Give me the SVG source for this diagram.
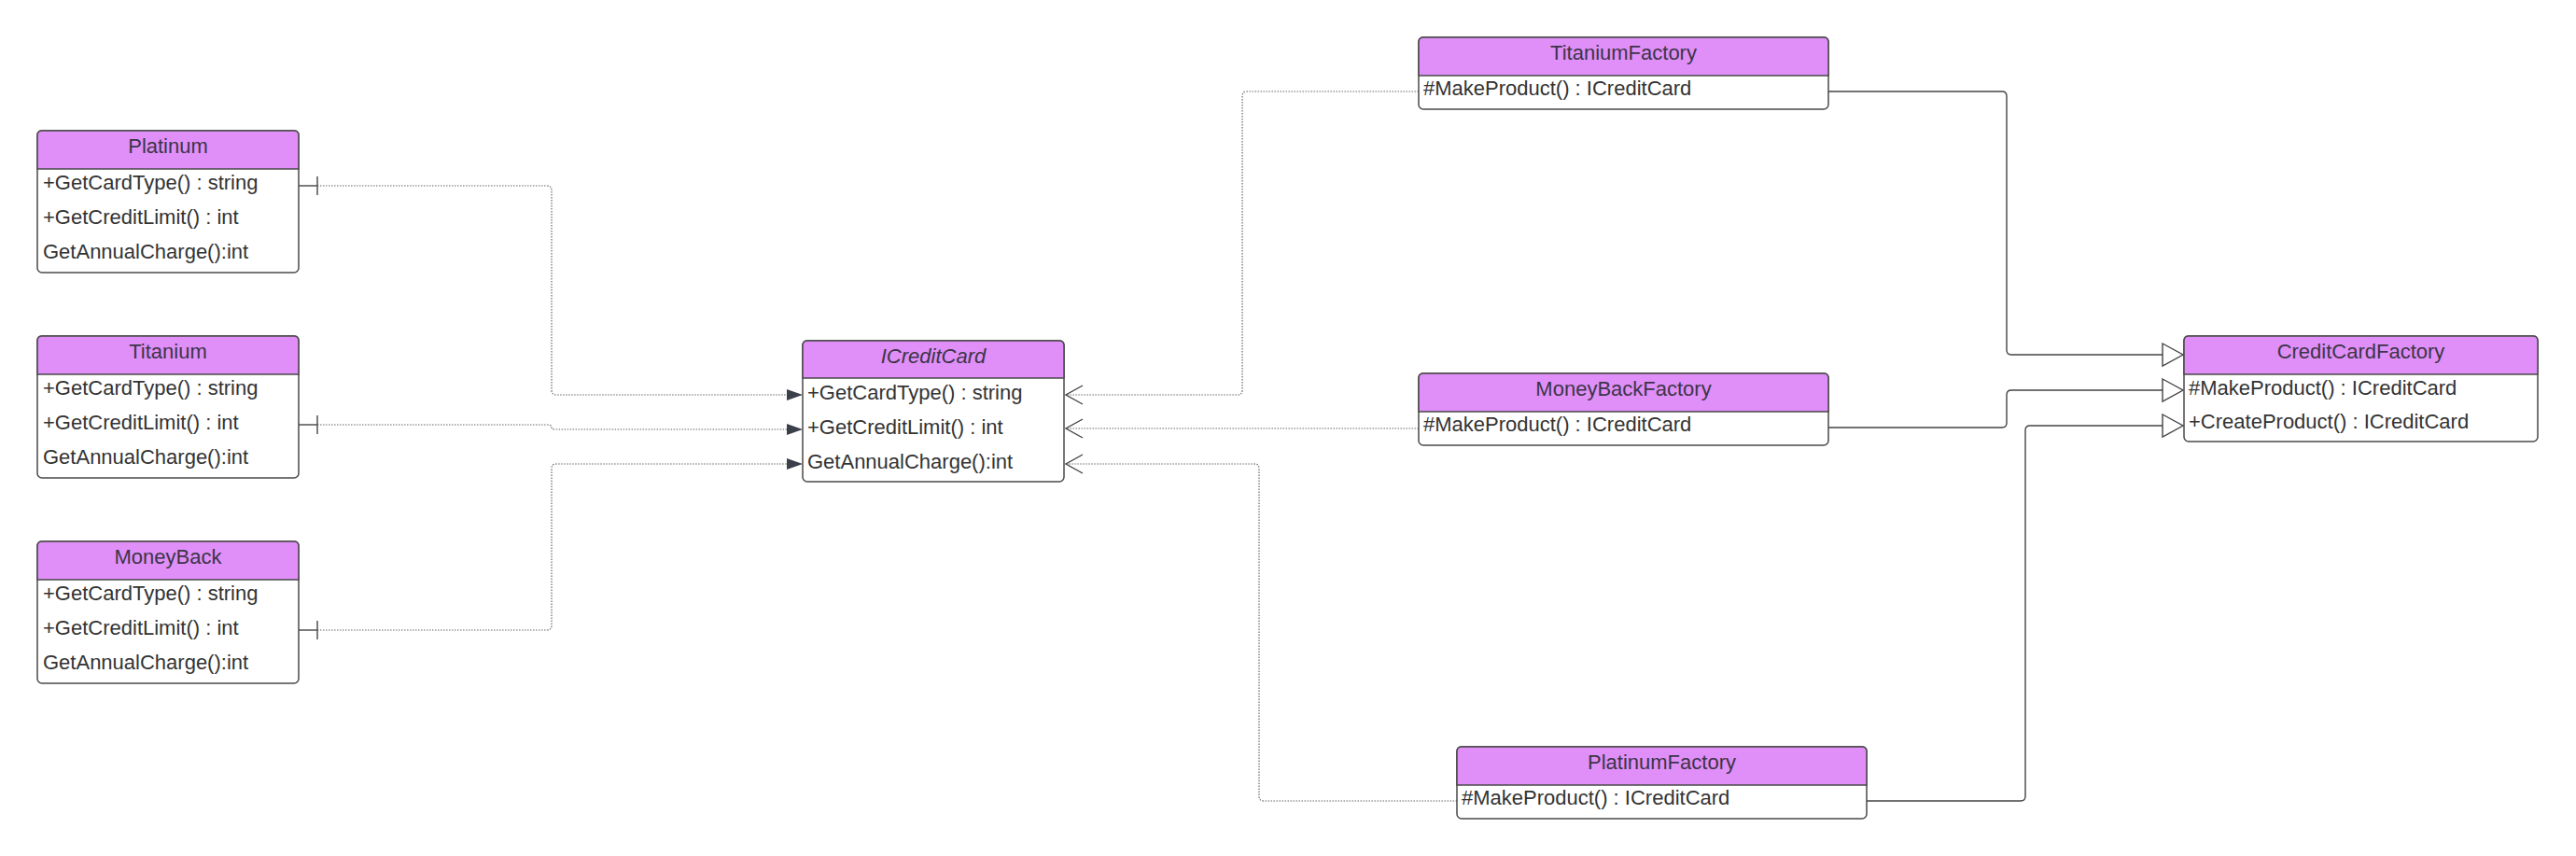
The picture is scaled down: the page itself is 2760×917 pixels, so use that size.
<svg xmlns="http://www.w3.org/2000/svg" width="2760" height="917" viewBox="0 0 2760 917">
<style>
  .box { fill: #ffffff; stroke: #4a4a4a; stroke-width: 1.5; }
  .hdr { fill: #df8ff7; stroke: #4a4a4a; stroke-width: 1.5; }
  .title { font-family: "Liberation Sans", Arial, sans-serif; font-size: 22px; fill: #3d3448; text-anchor: middle; }
  .row { font-family: "Liberation Sans", Arial, sans-serif; font-size: 22px; fill: #333333; }
  .dot { fill: none; stroke: #666666; stroke-width: 1.2; stroke-dasharray: 1.5 1.5; }
  .sol { fill: none; stroke: #444444; stroke-width: 1.4; }
  .tick { stroke: #444444; stroke-width: 1.4; }
  .open { fill: none; stroke: #444444; stroke-width: 1.4; }
  .filled { fill: #3a3f4a; stroke: none; }
  .tri { fill: #ffffff; stroke: #444444; stroke-width: 1.4; }
</style>
<rect width="2760" height="917" fill="#ffffff"/>

<g id="connectors">
  <!-- Platinum -> ICreditCard -->
  <line class="tick" x1="320" y1="199" x2="340" y2="199"/>
  <line class="tick" x1="340" y1="189" x2="340" y2="209"/>
  <path class="dot" d="M340 199 H586 Q591 199 591 204 V418 Q591 423 596 423 H844"/>
  <polygon class="filled" points="843,417 860,423 843,429"/>
  <!-- Titanium -> ICreditCard -->
  <line class="tick" x1="320" y1="455" x2="340" y2="455"/>
  <line class="tick" x1="340" y1="445" x2="340" y2="465"/>
  <path class="dot" d="M340 455 H587 Q591 455 591 458 Q591 460 595 460 H844"/>
  <polygon class="filled" points="843,454 860,460 843,466"/>
  <!-- MoneyBack -> ICreditCard -->
  <line class="tick" x1="320" y1="675" x2="340" y2="675"/>
  <line class="tick" x1="340" y1="665" x2="340" y2="685"/>
  <path class="dot" d="M340 675 H586 Q591 675 591 670 V502 Q591 497 596 497 H844"/>
  <polygon class="filled" points="843,491 860,497 843,503"/>

  <!-- Factories -> ICreditCard (dependency) -->
  <path class="dot" d="M1520 98 H1336 Q1331 98 1331 103 V418 Q1331 423 1326 423 H1142"/>
  <polyline class="open" points="1160,413 1142,423 1160,433"/>
  <path class="dot" d="M1520 459 H1142"/>
  <polyline class="open" points="1160,449 1142,459 1160,469"/>
  <path class="dot" d="M1561 858 H1354 Q1349 858 1349 853 V502 Q1349 497 1344 497 H1142"/>
  <polyline class="open" points="1160,487 1142,497 1160,507"/>

  <!-- Factories -> CreditCardFactory (generalization) -->
  <path class="sol" d="M1959 98 H2145 Q2150 98 2150 103 V375 Q2150 380 2155 380 H2317"/>
  <polygon class="tri" points="2317,368 2339,380 2317,392"/>
  <path class="sol" d="M1959 458 H2145 Q2150 458 2150 453 V423 Q2150 418 2155 418 H2317"/>
  <polygon class="tri" points="2317,406 2339,418 2317,430"/>
  <path class="sol" d="M2000 858 H2165 Q2170 858 2170 853 V461 Q2170 456 2175 456 H2317"/>
  <polygon class="tri" points="2317,444 2339,456 2317,468"/>
</g>

<g id="Platinum">
  <rect class="box" x="40" y="140" width="280" height="152" rx="5"/>
  <path class="hdr" d="M40 181 V145 Q40 140 45 140 H315 Q320 140 320 145 V181 Z"/>
  <text class="title" x="180" y="164">Platinum</text>
  <text class="row" x="46" y="203">+GetCardType() : string</text>
  <text class="row" x="46" y="240">+GetCreditLimit() : int</text>
  <text class="row" x="46" y="277">GetAnnualCharge():int</text>
</g>

<g id="Titanium">
  <rect class="box" x="40" y="360" width="280" height="152" rx="5"/>
  <path class="hdr" d="M40 401 V365 Q40 360 45 360 H315 Q320 360 320 365 V401 Z"/>
  <text class="title" x="180" y="384">Titanium</text>
  <text class="row" x="46" y="423">+GetCardType() : string</text>
  <text class="row" x="46" y="460">+GetCreditLimit() : int</text>
  <text class="row" x="46" y="497">GetAnnualCharge():int</text>
</g>

<g id="MoneyBack">
  <rect class="box" x="40" y="580" width="280" height="152" rx="5"/>
  <path class="hdr" d="M40 621 V585 Q40 580 45 580 H315 Q320 580 320 585 V621 Z"/>
  <text class="title" x="180" y="604">MoneyBack</text>
  <text class="row" x="46" y="643">+GetCardType() : string</text>
  <text class="row" x="46" y="680">+GetCreditLimit() : int</text>
  <text class="row" x="46" y="717">GetAnnualCharge():int</text>
</g>

<g id="ICreditCard">
  <rect class="box" x="860" y="365" width="280" height="151" rx="5"/>
  <path class="hdr" d="M860 405 V370 Q860 365 865 365 H1135 Q1140 365 1140 370 V405 Z"/>
  <text class="title" x="1000" y="389" font-style="italic">ICreditCard</text>
  <text class="row" x="865" y="428">+GetCardType() : string</text>
  <text class="row" x="865" y="465">+GetCreditLimit() : int</text>
  <text class="row" x="865" y="502">GetAnnualCharge():int</text>
</g>

<g id="TitaniumFactory">
  <rect class="box" x="1520" y="40" width="439" height="77" rx="5"/>
  <path class="hdr" d="M1520 81 V45 Q1520 40 1525 40 H1954 Q1959 40 1959 45 V81 Z"/>
  <text class="title" x="1739.5" y="64">TitaniumFactory</text>
  <text class="row" x="1525" y="102">#MakeProduct() : ICreditCard</text>
</g>

<g id="MoneyBackFactory">
  <rect class="box" x="1520" y="400" width="439" height="77" rx="5"/>
  <path class="hdr" d="M1520 441 V405 Q1520 400 1525 400 H1954 Q1959 400 1959 405 V441 Z"/>
  <text class="title" x="1739.5" y="424">MoneyBackFactory</text>
  <text class="row" x="1525" y="462">#MakeProduct() : ICreditCard</text>
</g>

<g id="PlatinumFactory">
  <rect class="box" x="1561" y="800" width="439" height="77" rx="5"/>
  <path class="hdr" d="M1561 841 V805 Q1561 800 1566 800 H1995 Q2000 800 2000 805 V841 Z"/>
  <text class="title" x="1780.5" y="824">PlatinumFactory</text>
  <text class="row" x="1566" y="862">#MakeProduct() : ICreditCard</text>
</g>

<g id="CreditCardFactory">
  <rect class="box" x="2340" y="360" width="379" height="113" rx="5"/>
  <path class="hdr" d="M2340 401 V365 Q2340 360 2345 360 H2714 Q2719 360 2719 365 V401 Z"/>
  <text class="title" x="2529.5" y="384">CreditCardFactory</text>
  <text class="row" x="2345" y="423">#MakeProduct() : ICreditCard</text>
  <text class="row" x="2345" y="459">+CreateProduct() : ICreditCard</text>
</g>
</svg>
